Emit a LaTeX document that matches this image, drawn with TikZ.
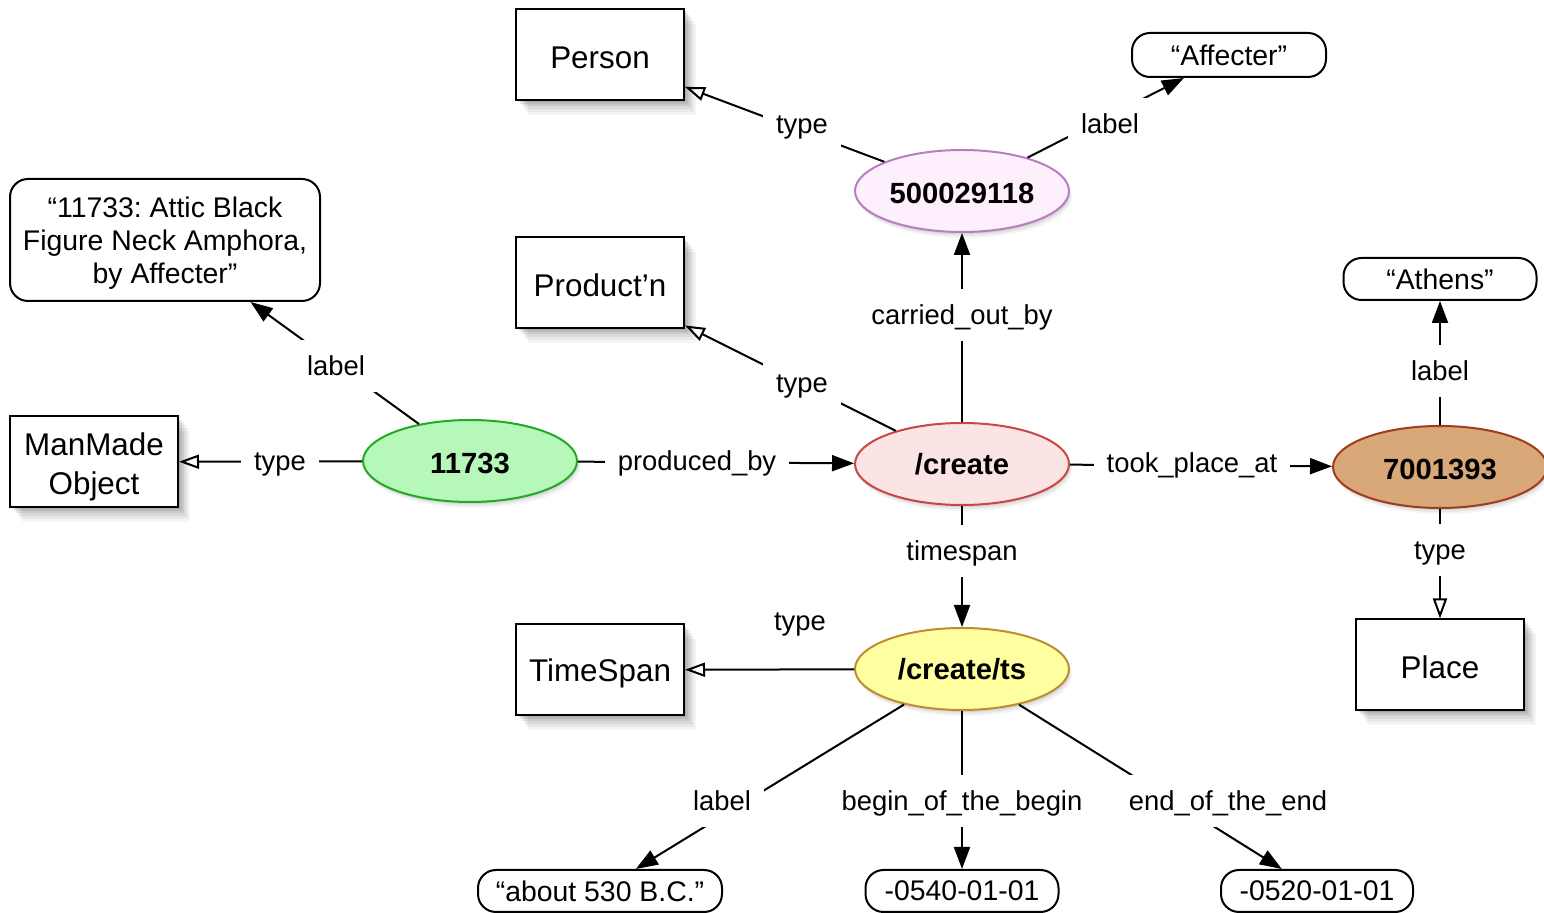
\documentclass[tikz,border=0pt]{standalone}
\usepackage{fontspec}
\setmainfont{Liberation Sans}
\frenchspacing
\usetikzlibrary{shapes.geometric,arrows.meta,shadows}
\definecolor{pfill}{RGB}{253,240,252}
\definecolor{pdraw}{RGB}{183,127,192}
\definecolor{gfill}{RGB}{182,247,186}
\definecolor{gdraw}{RGB}{34,170,34}
\definecolor{rfill}{RGB}{253,228,228}
\definecolor{rdraw}{RGB}{200,70,70}
\definecolor{bfill}{RGB}{216,168,120}
\definecolor{bdraw}{RGB}{160,60,30}
\definecolor{yfill}{RGB}{255,255,160}
\definecolor{ydraw}{RGB}{190,140,50}
\tikzset{
  boxshadow/.style={
    general shadow={fill=black,opacity=0.09,shadow xshift=1pt,shadow yshift=-1pt},
    general shadow={fill=black,opacity=0.08,shadow xshift=2pt,shadow yshift=-2pt},
    general shadow={fill=black,opacity=0.07,shadow xshift=3pt,shadow yshift=-3pt},
    general shadow={fill=black,opacity=0.06,shadow xshift=4pt,shadow yshift=-4.5pt},
    general shadow={fill=black,opacity=0.05,shadow xshift=5pt,shadow yshift=-6pt},
    general shadow={fill=black,opacity=0.04,shadow xshift=6pt,shadow yshift=-7.5pt}},
  ellshadow/.style={
    general shadow={fill=black,opacity=0.08,shadow xshift=0.5pt,shadow yshift=-1pt},
    general shadow={fill=black,opacity=0.06,shadow xshift=1pt,shadow yshift=-2pt},
    general shadow={fill=black,opacity=0.04,shadow xshift=1.5pt,shadow yshift=-3pt}},
  classbox/.style={draw, fill=white, minimum width=84pt, minimum height=45.5pt,
    inner sep=0pt, align=center, font=\fontsize{15.7}{19.5}\selectfont, boxshadow},
  oneline/.style={text height=13.2pt, text depth=0pt},
  lit/.style={draw, fill=white, rounded corners=9pt, inner sep=0pt, align=center,
    font=\fontsize{14.2}{16.5}\selectfont},
  ell/.style={ellipse, draw, minimum width=107pt, minimum height=41pt, inner sep=0pt,
    font=\bfseries\fontsize{14.6}{17}\selectfont, ellshadow},
  digits/.style={text height=12.4pt, text depth=0pt},
  lbl/.style={fill=white, inner xsep=6.5pt, inner ysep=8pt, text height=9.5pt, text depth=0.2pt,
    font=\fontsize{13.7}{16}\selectfont},
  fa/.style={-{Triangle[length=11pt,width=8pt]}},
  oa/.style={-{Triangle[open,length=10pt,width=7pt]}}
}
\begin{document}
\begin{tikzpicture}[x=0.5pt,y=-0.5pt,line width=1pt]
\useasboundingbox (0,0) rectangle (1544,913);
\fill[white] (0,0) rectangle (1544,913);
% class boxes
\node[classbox, oneline] (person) at (600,55) {Person};
\node[classbox, oneline] (prod) at (600,283) {Product’n};
\node[classbox, text depth=0pt] (mmo) at (94,462) {\rule{0pt}{13.4pt}ManMade\\Object};
\node[classbox, oneline, text depth=1.5pt] (tsbox) at (600,670) {TimeSpan};
\node[classbox, oneline] (place) at (1440,665) {Place};
% literals
\node[lit, minimum width=97pt, minimum height=22pt] (affl) at (1229,55) {“Affecter”};
\node[lit, minimum width=155pt, minimum height=61pt, text depth=0pt] (objl) at (165,240) {“11733: Attic Black\\Figure Neck Amphora,\\by Affecter”};
\node[lit, minimum width=96.5pt, minimum height=21pt] (athl) at (1440,279) {“Athens”};
\node[lit, minimum width=122pt, minimum height=21pt] (tsl) at (600,891) {“about 530 B.C.”};
\node[lit, minimum width=96.5pt, minimum height=21pt] (bb) at (962,891) {-0540-01-01};
\node[lit, minimum width=96pt, minimum height=21pt] (ee) at (1317,891) {-0520-01-01};
% resources
\node[ell, digits, fill=pfill, draw=pdraw] (e500) at (962,191) {500029118};
\node[ell, digits, fill=gfill, draw=gdraw] (e117) at (470,461) {11733};
\node[ell, fill=rfill, draw=rdraw] (ecr) at (962,464) {/create};
\node[ell, digits, fill=bfill, draw=bdraw] (e700) at (1440,467) {7001393};
\node[ell, fill=yfill, draw=ydraw] (ets) at (962,669) {/create/ts};
% connectors
\draw[oa] (e500) -- (person);
\draw[fa] (e500) -- (affl);
\draw[fa] (ecr) -- (e500);
\draw[fa] (e117) -- (objl);
\draw[oa] (ecr) -- (prod);
\draw[fa] (e700) -- (athl);
\draw[oa] (e117) -- (mmo);
\draw[fa] (e117) -- (ecr);
\draw[fa] (ecr) -- (e700);
\draw[fa] (ecr) -- (ets);
\draw[oa] (e700) -- (place);
\draw[oa] (ets) -- (tsbox);
\draw[fa] (ets) -- (tsl);
\draw[fa] (ets) -- (bb);
\draw[fa] (ets) -- (ee);
% edge labels
\node[lbl] (l1) at (802,124) {type};
\node[lbl] (l2) at (1110,124) {label};
\node[lbl] (l3) at (962,315) {carried\_out\_by};
\node[lbl] (l4) at (336,366) {label};
\node[lbl] (l5) at (802,383) {type};
\node[lbl] (l6) at (1440,371) {label};
\node[lbl] (l7) at (280,461) {type};
\node[lbl] (l8) at (697,461) {produced\_by};
\node[lbl] (l9) at (1192,463) {took\_place\_at};
\node[lbl] (l10) at (962,551) {timespan};
\node[lbl] (l11) at (1440,550) {type};
\node[lbl] (l12) at (800,621) {type};
\node[lbl] (l13) at (722,801) {label};
\node[lbl] (l14) at (962,801) {begin\_of\_the\_begin};
\node[lbl] (l15) at (1228,801) {end\_of\_the\_end};
\end{tikzpicture}
\end{document}
